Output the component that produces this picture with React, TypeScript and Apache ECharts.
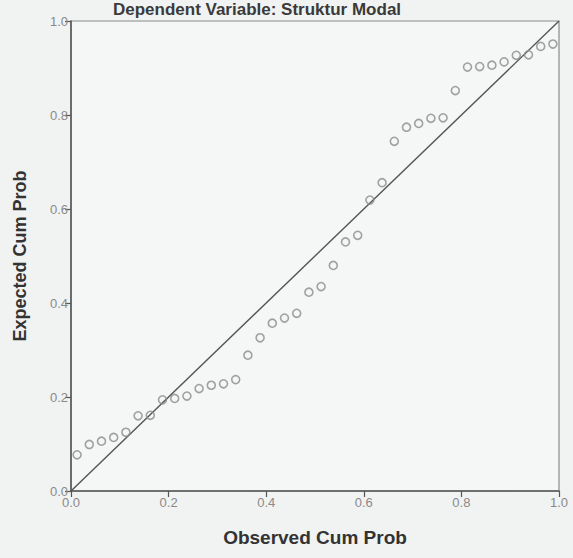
import React, { useEffect, useRef } from "react";
import * as echarts from "echarts";

const chartTitle = "Dependent Variable: Struktur Modal";
const xAxisName = "Observed Cum Prob";
const yAxisName = "Expected Cum Prob";

const observedCumProb = [
  0.0125, 0.0375, 0.0625, 0.0875, 0.1125, 0.1375, 0.1625, 0.1875, 0.2125, 0.2375,
  0.2625, 0.2875, 0.3125, 0.3375, 0.3625, 0.3875, 0.4125, 0.4375, 0.4625, 0.4875,
  0.5125, 0.5375, 0.5625, 0.5875, 0.6125, 0.6375, 0.6625, 0.6875, 0.7125, 0.7375,
  0.7625, 0.7875, 0.8125, 0.8375, 0.8625, 0.8875, 0.9125, 0.9375, 0.9625, 0.9875,
];

const expectedCumProb = [
  0.077, 0.099, 0.106, 0.114, 0.125, 0.16, 0.161, 0.194, 0.197, 0.202,
  0.218, 0.225, 0.228, 0.237, 0.289, 0.326, 0.357, 0.368, 0.378, 0.423,
  0.435, 0.48, 0.53, 0.544, 0.619, 0.656, 0.744, 0.774, 0.782, 0.793,
  0.794, 0.852, 0.902, 0.903, 0.906, 0.913, 0.927, 0.928, 0.946, 0.951,
];

const diagonal = [
  [0, 0],
  [1, 1],
];

export default function App() {
  const ref = useRef<HTMLDivElement>(null);

  useEffect(() => {
    if (!ref.current) return;
    const chart = echarts.init(ref.current, undefined, { renderer: "svg" });
    const points = observedCumProb.map((x, i) => [x, expectedCumProb[i]]);
    const font = "'Liberation Sans', Arial, sans-serif";
    chart.setOption({
      animation: false,
      backgroundColor: "#f1f2f2",
      grid: {
        left: 71,
        right: 14,
        top: 21,
        bottom: 67,
        show: true,
        backgroundColor: "#f5f6f6",
        borderColor: "#8a8a8a",
        borderWidth: 1.2,
      },
      graphic: [
        {
          type: "text",
          x: 257,
          y: 1,
          style: {
            text: chartTitle,
            fontFamily: font,
            fontSize: 17,
            fontWeight: "bold",
            fill: "#3a3a3a",
            align: "center",
            verticalAlign: "top",
          },
        },
      ],
      xAxis: {
        type: "value",
        min: 0,
        max: 1,
        interval: 0.2,
        name: xAxisName,
        nameLocation: "middle",
        nameGap: 37,
        nameTextStyle: {
          fontFamily: font,
          fontSize: 19,
          fontWeight: "bold",
          color: "#333",
        },
        splitLine: { show: false },
        axisLine: { show: true, lineStyle: { color: "#555", width: 1.5 } },
        axisTick: { show: true, length: 6, lineStyle: { color: "#555", width: 1.2 } },
        axisLabel: {
          fontFamily: font,
          fontSize: 13,
          color: "#8a8a8a",
          margin: 5,
          formatter: (v: number) => v.toFixed(1),
        },
      },
      yAxis: {
        type: "value",
        min: 0,
        max: 1,
        interval: 0.2,
        name: yAxisName,
        nameLocation: "middle",
        nameGap: 42,
        nameTextStyle: {
          fontFamily: font,
          fontSize: 18,
          fontWeight: "bold",
          color: "#333",
        },
        splitLine: { show: false },
        axisLine: { show: true, lineStyle: { color: "#555", width: 1.5 } },
        axisTick: { show: true, length: 6, lineStyle: { color: "#555", width: 1.2 } },
        axisLabel: {
          fontFamily: font,
          fontSize: 13,
          color: "#8a8a8a",
          margin: 3,
          formatter: (v: number) => v.toFixed(1),
        },
      },
      series: [
        {
          type: "line",
          data: diagonal,
          symbol: "none",
          silent: true,
          lineStyle: { color: "#555", width: 1.4 },
          z: 2,
        },
        {
          type: "scatter",
          data: points,
          symbol: "circle",
          symbolSize: 8,
          itemStyle: {
            color: "rgba(0,0,0,0)",
            borderColor: "#8c8c8c",
            borderWidth: 1.6,
          },
          z: 3,
        },
      ],
    });
    return () => chart.dispose();
  }, []);

  return (
    <div
      ref={ref}
      style={{
        position: "fixed",
        left: 0,
        top: 0,
        width: 573,
        height: 558,
        background: "#f1f2f2",
      }}
    />
  );
}
